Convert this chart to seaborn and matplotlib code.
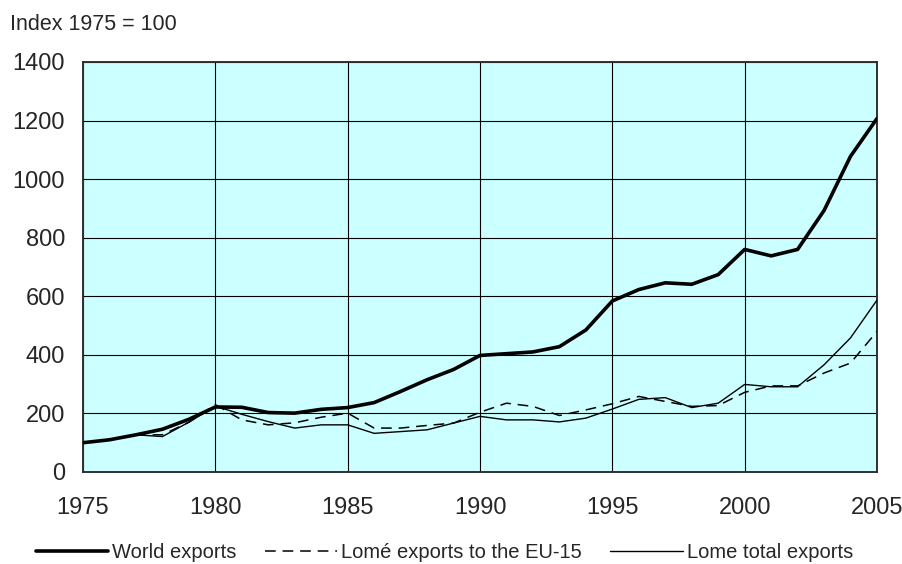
import matplotlib
matplotlib.use("Agg")
import matplotlib.pyplot as plt
import seaborn as sns
import pandas as pd

years = list(range(1975, 2006))

# index 1975 = 100
world_exports = [100, 110, 127, 146, 180, 222, 221, 203, 201, 214, 220, 237,
                 275, 315, 350, 398, 404, 410, 428, 485, 584, 623, 646, 641,
                 674, 760, 738, 760, 893, 1078, 1207]
lome_eu15 = [100, 110, 127, 127, 170, 230, 178, 161, 168, 187, 201, 150,
             150, 159, 167, 204, 235, 224, 193, 212, 233, 258, 241, 224,
             227, 272, 294, 294, 338, 372, 480]
lome_total = [100, 110, 127, 121, 170, 225, 197, 172, 150, 161, 161, 132,
              138, 144, 167, 190, 178, 178, 171, 184, 215, 248, 254, 220,
              235, 299, 291, 291, 366, 458, 587]

series_names = ["World exports", "Lomé exports to the EU-15", "Lome total exports"]

df = pd.DataFrame({"year": years, series_names[0]: world_exports,
                   series_names[1]: lome_eu15, series_names[2]: lome_total})

sns.set_style("white")
plt.rcParams['font.family'] = ['Liberation Sans', 'DejaVu Sans']

fig = plt.figure(figsize=(9.03, 5.64), dpi=100)
ax = fig.add_axes([83 / 903, 92 / 564, 794 / 903, 410 / 564])
ax.set_facecolor("#CCFFFF")

styles = {
    series_names[0]: dict(lw=2.6, ls="-"),
    series_names[1]: dict(lw=1.1, ls=(0, (7, 4.5))),
    series_names[2]: dict(lw=1.0, ls="-"),
}
for name in series_names:
    sns.lineplot(data=df, x="year", y=name, ax=ax, color="black",
                 linewidth=styles[name]["lw"], linestyle=styles[name]["ls"],
                 label=name, zorder=3)

ax.set_xlim(1975, 2005)
ax.set_ylim(0, 1400)
ax.set_xticks(range(1975, 2006, 5))
ax.set_yticks(range(0, 1401, 200))
ax.grid(True, color="black", linewidth=0.8)
ax.set_axisbelow(True)
ax.set_xlabel("")
ax.set_ylabel("")
ax.tick_params(axis="x", length=0, pad=18, labelsize=17)
ax.tick_params(axis="y", length=0, pad=13, labelsize=17)
for sp in ax.spines.values():
    sp.set_color("#303030")
    sp.set_linewidth(1.4)

fig.text(10 / 903, 1 - 14 / 564, "Index 1975 = 100", fontsize=15.5, va="top", ha="left")

handles, labels = ax.get_legend_handles_labels()
ax.get_legend().remove()
fig.legend(handles, labels, loc="center", bbox_to_anchor=(0.492, 11 / 564),
           ncol=3, frameon=False, fontsize=14.5, handlelength=3.6,
           handletextpad=0.2, columnspacing=1.4, borderaxespad=0)

fig.savefig("out.png", dpi=100)
